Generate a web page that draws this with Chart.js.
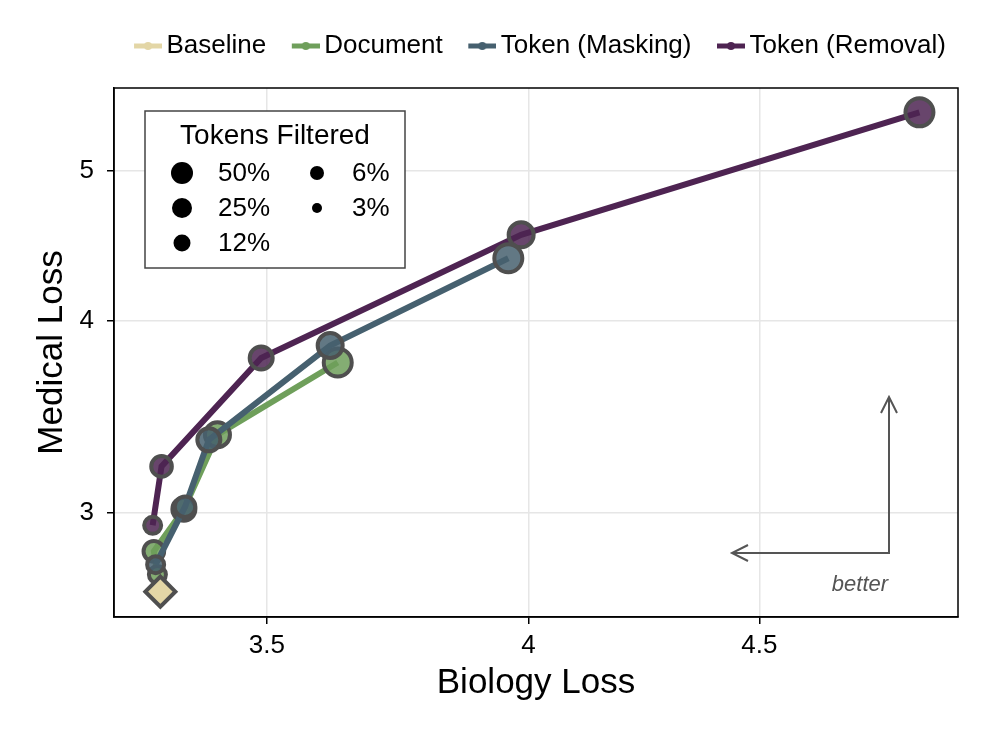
<!DOCTYPE html>
<html>
<head>
<meta charset="utf-8">
<script src="https://cdn.jsdelivr.net/npm/chart.js@4.4.1/dist/chart.umd.min.js"></script>
<style>
  html, body { margin: 0; padding: 0; background: #fff; }
  canvas { display: block; }
</style>
</head>
<body>
<canvas id="lossChart" width="1004" height="734"></canvas>
<script>
// tokens filtered per point, in the order the points are joined
const filterLevels = ["3%", "6%", "12%", "25%", "50%"];
const legendLevels = ["50%", "25%", "12%", "6%", "3%"];

const baselineBio = [3.315];
const baselineMed = [2.668];

const documentBio = [3.310, 3.304, 3.355, 3.413, 3.629];
const documentMed = [2.737, 2.834, 3.018, 3.373, 3.757];

const maskingBio = [3.307, 3.357, 3.398, 3.615, 3.959];
const maskingMed = [2.778, 3.029, 3.347, 3.853, 4.390];

const removalBio = [3.302, 3.317, 3.490, 3.985, 4.883];
const removalMed = [2.946, 3.217, 3.782, 4.546, 5.459];

const xTicks = [3.5, 4, 4.5];
const yTicks = [3, 4, 5];

const FONT = '"Liberation Sans", Arial, Helvetica, sans-serif';
Chart.defaults.font.family = FONT;
Chart.defaults.color = "#000";

const COLORS = {
  baseline: "#e3d6a6",
  document: "#6f9f5b",
  masking: "#46606f",
  removal: "#4e2452"
};
const EDGE = "#4f4f4f";
// marker radius in the plot and in the inner legend
const PLOT_R = { "50%": 14, "25%": 12.5, "12%": 11.5, "6%": 10.3, "3%": 8.5 };
const KEY_R = { "50%": 11, "25%": 10, "12%": 8.5, "6%": 7, "3%": 5 };

function pts(xs, ys) {
  return xs.map((x, i) => ({ x: x, y: ys[i] }));
}

function legendIcon(color) {
  const c = document.createElement("canvas");
  c.width = 50;
  c.height = 12;
  const g = c.getContext("2d");
  g.strokeStyle = color;
  g.lineWidth = 5;
  g.beginPath();
  g.moveTo(22, 6);
  g.lineTo(50, 6);
  g.stroke();
  g.fillStyle = color;
  g.beginPath();
  g.arc(36, 6, 4, 0, Math.PI * 2);
  g.fill();
  return c;
}

function seriesSet(label, color, xs, ys, order) {
  return {
    label: label,
    data: pts(xs, ys),
    showLine: true,
    borderColor: color,
    borderWidth: 6,
    backgroundColor: color,
    pointBackgroundColor: color + "d9",
    pointBorderColor: EDGE,
    pointBorderWidth: 4,
    pointRadius: filterLevels.map(l => PLOT_R[l]),
    pointHoverRadius: filterLevels.map(l => PLOT_R[l]),
    tension: 0,
    order: order
  };
}

const datasets = [
  {
    label: "Baseline",
    data: pts(baselineBio, baselineMed),
    showLine: false,
    backgroundColor: COLORS.baseline,
    borderColor: COLORS.baseline,
    pointStyle: "rectRot",
    pointBackgroundColor: COLORS.baseline,
    pointBorderColor: EDGE,
    pointBorderWidth: 4,
    pointRadius: 15,
    pointHoverRadius: 15,
    order: 0
  },
  seriesSet("Document", COLORS.document, documentBio, documentMed, 2),
  seriesSet("Token (Masking)", COLORS.masking, maskingBio, maskingMed, 1),
  seriesSet("Token (Removal)", COLORS.removal, removalBio, removalMed, 3)
];

const icons = [COLORS.baseline, COLORS.document, COLORS.masking, COLORS.removal].map(legendIcon);

const extras = {
  id: "extras",
  beforeLayout(chart) {
    const lg = chart.legend;
    if (lg && !lg._fixed) {
      const fit = lg.fit;
      lg.fit = function () {
        fit.call(this);
        this.height = 67;
      };
      lg._fixed = true;
    }
  },
  afterDraw(chart) {
    const ctx = chart.ctx;
    const a = chart.chartArea;
    ctx.save();

    // frame
    ctx.strokeStyle = "#000";
    ctx.lineWidth = 1.5;
    ctx.strokeRect(a.left, a.top, a.right - a.left, a.bottom - a.top);

    // size key
    const bx = a.left + 31, by = a.top + 23, bw = 260, bh = 157;
    ctx.fillStyle = "#fff";
    ctx.fillRect(bx, by, bw, bh);
    ctx.strokeStyle = "#444";
    ctx.lineWidth = 1.5;
    ctx.strokeRect(bx, by, bw, bh);
    ctx.fillStyle = "#000";
    ctx.textBaseline = "middle";
    ctx.textAlign = "center";
    ctx.font = "28px " + FONT;
    ctx.fillText("Tokens Filtered", bx + bw / 2, by + 25);
    ctx.textAlign = "left";
    ctx.font = "26px " + FONT;
    legendLevels.forEach((lvl, i) => {
      const col = i < 3 ? 0 : 1;
      const row = i < 3 ? i : i - 3;
      const cx = bx + (col === 0 ? 37 : 172);
      const cy = by + 62 + row * 35;
      ctx.beginPath();
      ctx.arc(cx, cy, KEY_R[lvl], 0, Math.PI * 2);
      ctx.fill();
      ctx.fillText(lvl, bx + (col === 0 ? 73 : 207), cy + 1);
    });

    // "better" arrow
    const cx = a.right - 69, cy = a.bottom - 64;
    const lx = a.right - 226, ty = a.bottom - 220;
    ctx.strokeStyle = "#555";
    ctx.lineWidth = 2;
    ctx.beginPath();
    ctx.moveTo(lx, cy);
    ctx.lineTo(cx, cy);
    ctx.lineTo(cx, ty);
    ctx.moveTo(lx + 16, cy - 8);
    ctx.lineTo(lx, cy);
    ctx.lineTo(lx + 16, cy + 8);
    ctx.moveTo(cx - 8, ty + 16);
    ctx.lineTo(cx, ty);
    ctx.lineTo(cx + 8, ty + 16);
    ctx.stroke();
    ctx.fillStyle = "#555";
    ctx.textAlign = "center";
    ctx.font = "italic 22px " + FONT;
    ctx.fillText("better", a.right - 98, a.bottom - 32);

    ctx.restore();
  }
};

const axisGrid = {
  color: "#e6e6e6",
  lineWidth: 1.5,
  tickColor: "#000",
  tickLength: 7,
  tickWidth: 1.5
};

new Chart(document.getElementById("lossChart").getContext("2d"), {
  type: "scatter",
  data: { datasets: datasets },
  options: {
    responsive: false,
    animation: false,
    events: [],
    layout: { padding: { top: 21, right: 46, bottom: 0, left: 0 } },
    plugins: {
      tooltip: { enabled: false },
      legend: {
        position: "top",
        align: "end",
        labels: {
          usePointStyle: true,
          pointStyleWidth: 33,
          padding: 12,
          color: "#000",
          font: { size: 26 },
          sort: (p, q) => p.datasetIndex - q.datasetIndex,
          generateLabels: chart => {
            const items = Chart.defaults.plugins.legend.labels.generateLabels(chart);
            items.forEach(it => { it.pointStyle = icons[it.datasetIndex]; });
            return items;
          }
        }
      }
    },
    scales: {
      x: {
        type: "logarithmic",
        min: 3.2375,
        max: 4.98,
        afterBuildTicks: s => { s.ticks = xTicks.map(v => ({ value: v })); },
        afterFit: s => { s.height = 117; },
        ticks: {
          callback: v => String(v),
          color: "#000",
          font: { size: 26 },
          padding: 6,
          maxRotation: 0,
          autoSkip: false
        },
        grid: axisGrid,
        border: { color: "#000", width: 1.5 },
        title: {
          display: true,
          text: "Biology Loss",
          color: "#000",
          font: { size: 35 },
          padding: { top: 0, bottom: 30 }
        }
      },
      y: {
        type: "logarithmic",
        min: 2.569,
        max: 5.661,
        afterBuildTicks: s => { s.ticks = yTicks.map(v => ({ value: v })); },
        afterFit: s => { s.width = 114; },
        ticks: {
          callback: v => String(v),
          color: "#000",
          font: { size: 26 },
          padding: 13,
          autoSkip: false
        },
        grid: axisGrid,
        border: { color: "#000", width: 1.5 },
        title: {
          display: true,
          text: "Medical Loss",
          color: "#000",
          font: { size: 35 },
          padding: { top: 31, bottom: 0 }
        }
      }
    }
  },
  plugins: [extras]
});
</script>
</body>
</html>
